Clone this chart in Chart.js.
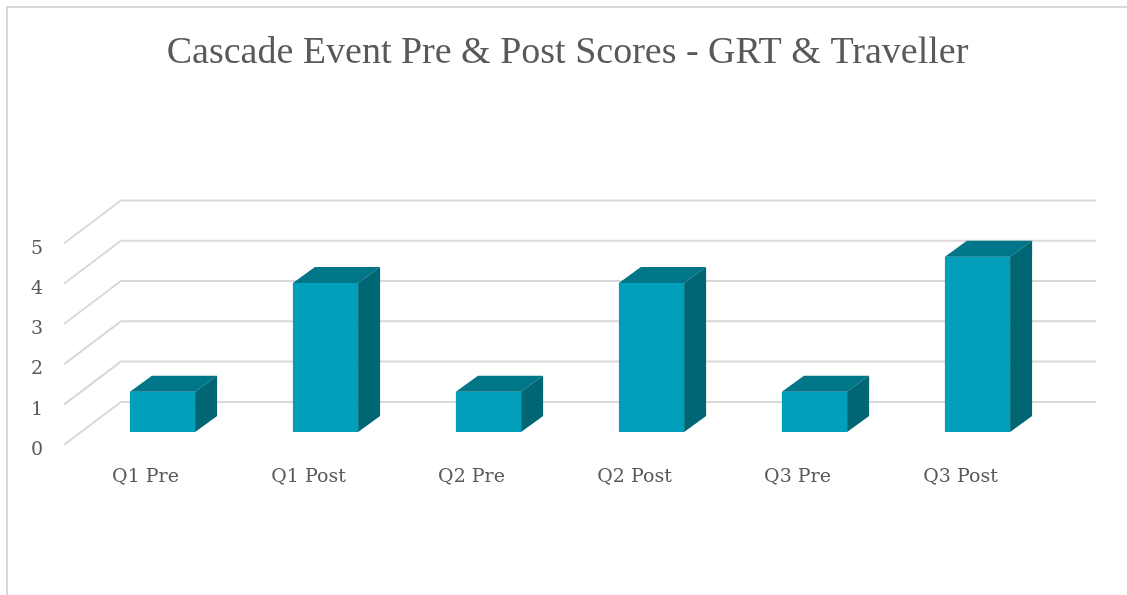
<!DOCTYPE html>
<html>
<head>
<meta charset="utf-8">
<script src="https://cdn.jsdelivr.net/npm/chart.js@4.4.1/dist/chart.umd.min.js"></script>
<style>
    html, body { margin: 0; padding: 0; background: #fff; overflow: hidden; }
    #frame {
        position: absolute; left: 6px; top: 6px;
        width: 1300px; height: 800px;
        border: 2px solid #d9d9d9; box-sizing: border-box;
    }
    #chart { position: absolute; left: 0; top: 0; }
</style>
</head>
<body>
<div id="frame"></div>
<canvas id="chart" width="1127" height="595"></canvas>
<script>
// البيانات
const categories = ['Q1 Pre', 'Q1 Post', 'Q2 Pre', 'Q2 Post', 'Q3 Pre', 'Q3 Post'];
const scores = [1, 3.7, 1, 3.7, 1, 4.35];
const yTicks = [0, 1, 2, 3, 4, 5];

// perspective of the floor and of the columns (pixels)
const DEPTH_X = 57, DEPTH_Y = 43, PLANE = 0.3;
const BAR_DX = 22, BAR_DY = 16;

const FRONT = '#019fba';
const TOP = '#007688';
const SIDE = '#006674';
const TEXT = '#595959';

function poly(ctx, pts) {
    ctx.beginPath();
    ctx.moveTo(pts[0][0], pts[0][1]);
    for (let i = 1; i < pts.length; i++) ctx.lineTo(pts[i][0], pts[i][1]);
    ctx.closePath();
    ctx.fill();
}

// grid lines on the floor edge + back wall
const backWall = {
    id: 'backWall',
    beforeDatasetsDraw(chart) {
        const { ctx, chartArea, scales } = chart;
        ctx.save();
        ctx.strokeStyle = '#d9d9d9';
        ctx.lineWidth = 2;
        yTicks.forEach(v => {
            const py = scales.y.getPixelForValue(v);
            ctx.beginPath();
            ctx.moveTo(chartArea.left - DEPTH_X * PLANE, py + DEPTH_Y * PLANE);
            ctx.lineTo(chartArea.left + DEPTH_X * (1 - PLANE), py - DEPTH_Y * (1 - PLANE));
            ctx.lineTo(chartArea.right + 37, py - DEPTH_Y * (1 - PLANE));
            ctx.stroke();
        });
        ctx.restore();
    }
};

// top and side faces of each column
const barFaces = {
    id: 'barFaces',
    afterDatasetsDraw(chart) {
        const ctx = chart.ctx;
        ctx.save();
        chart.getDatasetMeta(0).data.forEach(bar => {
            const { x, y, base, width } = bar.getProps(['x', 'y', 'base', 'width'], true);
            const l = x - width / 2, r = x + width / 2;
            ctx.fillStyle = TOP;
            poly(ctx, [[l, y], [l + BAR_DX, y - BAR_DY], [r + BAR_DX, y - BAR_DY], [r, y]]);
            ctx.fillStyle = SIDE;
            poly(ctx, [[r, y], [r + BAR_DX, y - BAR_DY], [r + BAR_DX, base - BAR_DY], [r, base]]);
        });
        ctx.restore();
    }
};

new Chart(document.getElementById('chart').getContext('2d'), {
    type: 'bar',
    data: {
        labels: categories,
        datasets: [{
            data: scores,
            backgroundColor: FRONT,
            borderWidth: 0,
            barPercentage: 0.4,
            categoryPercentage: 1
        }]
    },
    options: {
        responsive: false,
        animation: false,
        layout: { padding: { left: 8, right: 0, top: 0, bottom: 0 } },
        plugins: {
            legend: { display: false },
            tooltip: { enabled: false },
            title: {
                display: true,
                text: 'Cascade Event Pre & Post Scores - GRT & Traveller',
                color: TEXT,
                font: { family: 'Liberation Serif', size: 38, weight: 'normal' },
                padding: { top: 30, bottom: 155 }
            }
        },
        scales: {
            x: {
                grid: { display: false },
                border: { display: false },
                ticks: {
                    color: TEXT,
                    font: { family: 'DejaVu Serif', size: 19 },
                    padding: 26,
                    labelOffset: -17,
                    maxRotation: 0,
                    autoSkip: false
                },
                afterFit(scale) { scale.height = 163; }
            },
            y: {
                min: 0,
                max: 5,
                grid: { display: false },
                border: { display: false },
                ticks: {
                    stepSize: 1,
                    color: TEXT,
                    font: { family: 'DejaVu Serif', size: 19 },
                    padding: 30,
                    labelOffset: 18
                },
                afterFit(scale) { scale.width = 73; }
            },
            // empty strip on the right, keeps the title centred on the whole frame
            yRight: {
                position: 'right',
                grid: { display: false },
                border: { display: false },
                ticks: { display: false },
                afterFit(scale) { scale.width = 68; }
            }
        }
    },
    plugins: [backWall, barFaces]
});
</script>
</body>
</html>
